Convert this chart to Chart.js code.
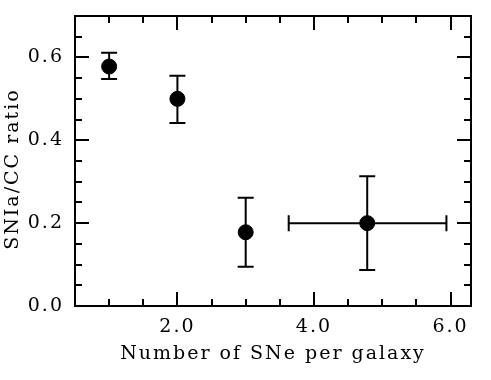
<!DOCTYPE html>
<html>
<head>
<meta charset="utf-8">
<script src="https://cdn.jsdelivr.net/npm/chart.js@4/dist/chart.umd.min.js"></script>
<style>
  html, body { margin: 0; padding: 0; background: #fff; }
  #wrap { width: 491px; height: 380px; }
</style>
</head>
<body>
<div id="wrap"><canvas id="chart"></canvas></div>
<script>
// values
var snePerGalaxy = [1.0, 2.0, 3.0, 4.78];
var ratio = [0.578, 0.500, 0.178, 0.200];
var ratioHigh = [0.611, 0.556, 0.261, 0.313];
var ratioLow = [0.548, 0.442, 0.095, 0.087];
var xLow = [null, null, null, 3.63];
var xHigh = [null, null, null, 5.94];

var xTicks = [2, 4, 6];
var yTicks = [0, 0.2, 0.4, 0.6];
var xTitle = "Number of SNe per galaxy";
var yTitle = "SNIa/CC ratio  ";

var points = snePerGalaxy.map(function (x, i) {
  return { x: x, y: ratio[i] };
});

var fontFamily = "'DejaVu Serif', serif";
var fontSize = 19;

// frame, inward ticks on all sides, error bars
var framePlugin = {
  id: "frame",
  beforeDraw: function (chart) {
    chart.ctx.letterSpacing = "2px";
  },
  afterDatasetsDraw: function (chart) {
    var ctx = chart.ctx;
    var a = chart.chartArea;
    var xs = chart.scales.x;
    var ys = chart.scales.y;
    ctx.save();
    ctx.strokeStyle = "#000";
    ctx.lineWidth = 2;

    // error bars
    var cap = 8;
    for (var i = 0; i < points.length; i++) {
      var px = xs.getPixelForValue(snePerGalaxy[i]);
      var py = ys.getPixelForValue(ratio[i]);
      var top = ys.getPixelForValue(ratioHigh[i]);
      var bot = ys.getPixelForValue(ratioLow[i]);
      ctx.beginPath();
      ctx.moveTo(px, top); ctx.lineTo(px, bot);
      ctx.moveTo(px - cap, top); ctx.lineTo(px + cap, top);
      ctx.moveTo(px - cap, bot); ctx.lineTo(px + cap, bot);
      if (xLow[i] != null) {
        var l = xs.getPixelForValue(xLow[i]);
        var r = xs.getPixelForValue(xHigh[i]);
        ctx.moveTo(l, py); ctx.lineTo(r, py);
        ctx.moveTo(l, py - cap); ctx.lineTo(l, py + cap);
        ctx.moveTo(r, py - cap); ctx.lineTo(r, py + cap);
      }
      ctx.stroke();
    }

    // box
    ctx.strokeRect(a.left, a.top, a.right - a.left, a.bottom - a.top);

    // x ticks every 0.5, major every 2
    ctx.beginPath();
    for (var v = 1; v <= 6.001; v += 0.5) {
      var x = Math.round(xs.getPixelForValue(v));
      var len = Math.abs(v / 2 - Math.round(v / 2)) < 1e-6 ? 14 : 7;
      ctx.moveTo(x, a.bottom); ctx.lineTo(x, a.bottom - len);
      ctx.moveTo(x, a.top); ctx.lineTo(x, a.top + len);
    }
    // y ticks every 0.05, major every 0.2
    for (var k = 1; k <= 13; k++) {
      var y = Math.round(ys.getPixelForValue(k * 0.05));
      var ylen = k % 4 === 0 ? 14 : 7;
      ctx.moveTo(a.left, y); ctx.lineTo(a.left + ylen, y);
      ctx.moveTo(a.right, y); ctx.lineTo(a.right - ylen, y);
    }
    ctx.stroke();
    ctx.restore();
  },
  afterDraw: function (chart) {
    chart.ctx.letterSpacing = "0px";
  }
};

new Chart(document.getElementById("chart"), {
  type: "scatter",
  data: {
    datasets: [{
      data: points,
      backgroundColor: "#000",
      borderColor: "#000",
      pointRadius: 7.5,
      pointHoverRadius: 7.5
    }]
  },
  options: {
    responsive: true,
    maintainAspectRatio: false,
    animation: false,
    layout: { padding: { top: 16, right: 20, left: 0, bottom: 0 } },
    plugins: { legend: { display: false }, tooltip: { enabled: false } },
    scales: {
      x: {
        type: "linear",
        min: 0.5,
        max: 6.3,
        grid: { display: false, drawTicks: false },
        border: { display: false },
        afterBuildTicks: function (s) {
          s.ticks = xTicks.map(function (v) { return { value: v }; });
        },
        ticks: {
          padding: 10,
          color: "#000",
          font: { family: fontFamily, size: fontSize },
          callback: function (v) { return v.toFixed(1); }
        },
        title: {
          display: true,
          text: xTitle,
          color: "#000",
          font: { family: fontFamily, size: fontSize },
          padding: { top: 0, bottom: 15 }
        },
        afterFit: function (s) {
          s.height = 74;
          s.paddingLeft = 0;
          s.paddingRight = 0;
        }
      },
      y: {
        min: 0,
        max: 0.7,
        grid: { display: false, drawTicks: false },
        border: { display: false },
        afterBuildTicks: function (s) {
          s.ticks = yTicks.map(function (v) { return { value: v }; });
        },
        ticks: {
          padding: 11,
          color: "#000",
          font: { family: fontFamily, size: fontSize },
          callback: function (v) { return v.toFixed(1); }
        },
        title: {
          display: true,
          text: yTitle,
          color: "#000",
          font: { family: fontFamily, size: fontSize },
          padding: { top: 2, bottom: 0 }
        },
        afterFit: function (s) {
          s.width = 75;
          s.paddingTop = 0;
          s.paddingBottom = 0;
        }
      }
    }
  },
  plugins: [framePlugin]
});
</script>
</body>
</html>
